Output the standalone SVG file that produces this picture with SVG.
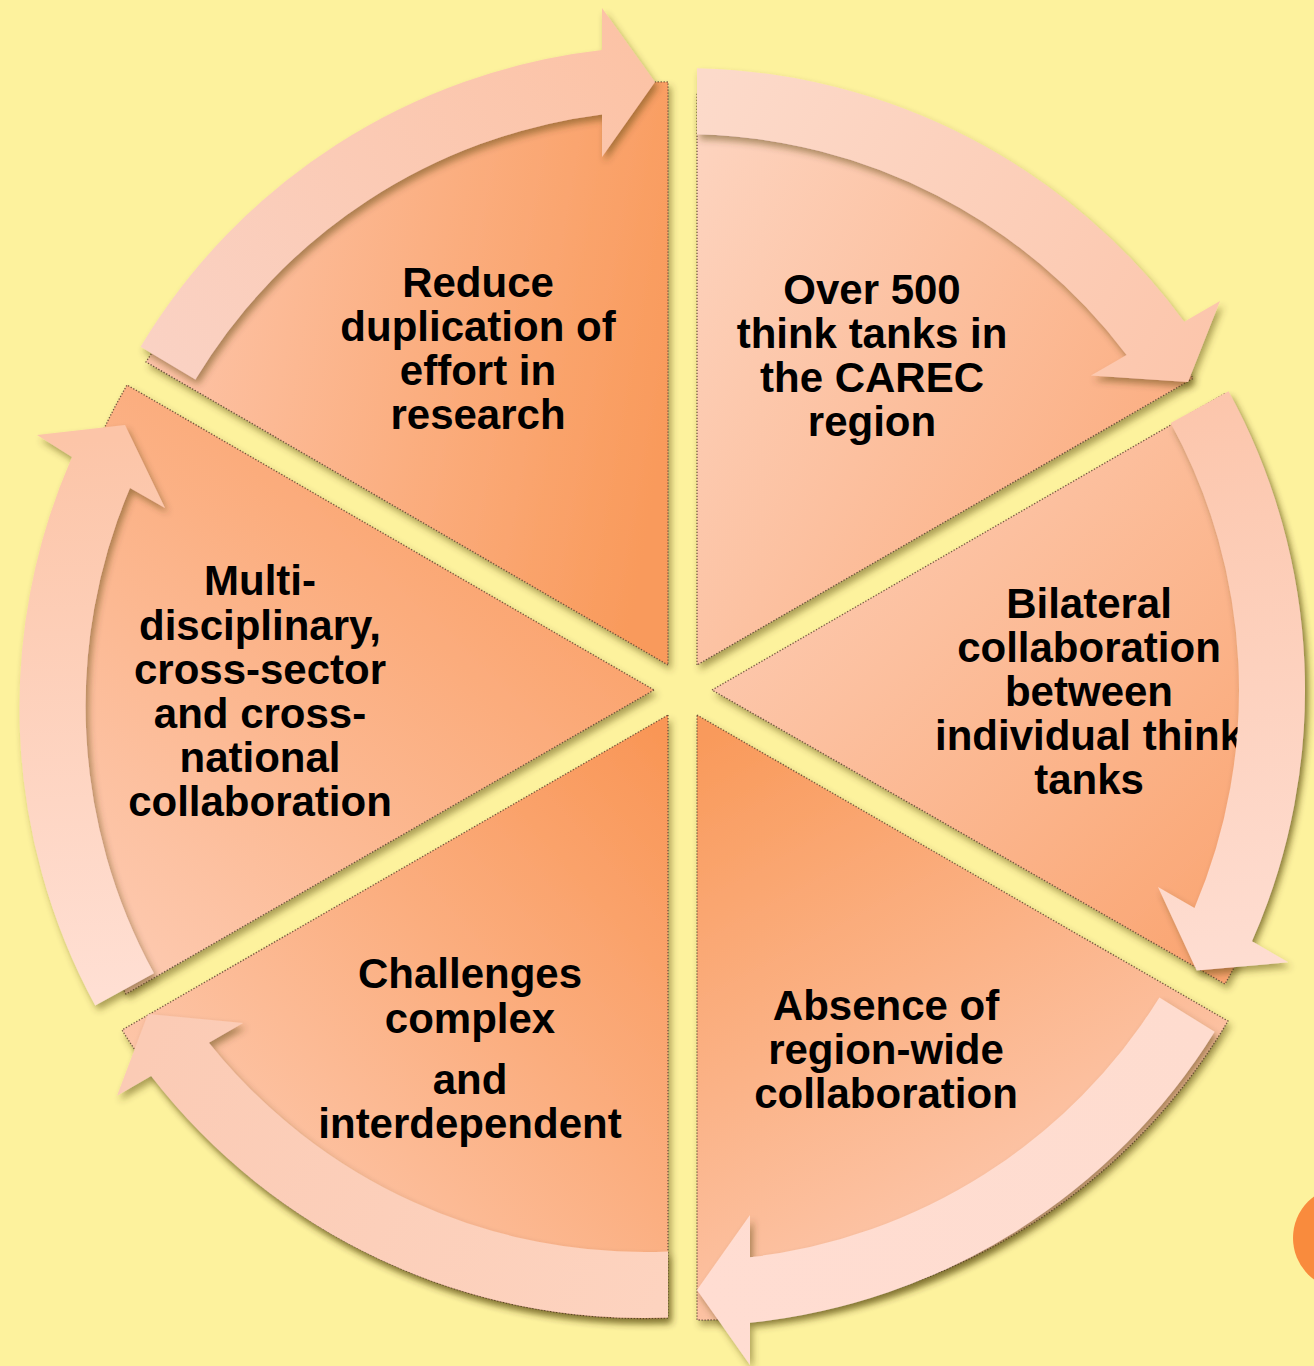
<svg xmlns="http://www.w3.org/2000/svg" width="1314" height="1366" viewBox="0 0 1314 1366">
<defs>
<filter id="sh" x="-10%" y="-10%" width="120%" height="120%">
<feDropShadow dx="3" dy="5" stdDeviation="3.5" flood-color="#4a3a10" flood-opacity="0.45"/>
</filter>
<linearGradient id="g1" gradientUnits="userSpaceOnUse" x1="668" y1="420" x2="150" y2="330"><stop offset="0" stop-color="#F99A5B"/><stop offset="1" stop-color="#FDC4A8"/></linearGradient>
<linearGradient id="g2" gradientUnits="userSpaceOnUse" x1="700" y1="150" x2="1200" y2="420"><stop offset="0" stop-color="#FDD3BE"/><stop offset="1" stop-color="#FBAD80"/></linearGradient>
<linearGradient id="g3" gradientUnits="userSpaceOnUse" x1="740" y1="500" x2="1220" y2="980"><stop offset="0" stop-color="#FDCDB5"/><stop offset="1" stop-color="#FAA470"/></linearGradient>
<linearGradient id="g4" gradientUnits="userSpaceOnUse" x1="700" y1="740" x2="1000" y2="1300"><stop offset="0" stop-color="#F99A5B"/><stop offset="1" stop-color="#FDCBB3"/></linearGradient>
<linearGradient id="g5" gradientUnits="userSpaceOnUse" x1="668" y1="740" x2="200" y2="1150"><stop offset="0" stop-color="#F99656"/><stop offset="1" stop-color="#FDC6A9"/></linearGradient>
<linearGradient id="g6" gradientUnits="userSpaceOnUse" x1="600" y1="480" x2="150" y2="960"><stop offset="0" stop-color="#FA9D62"/><stop offset="1" stop-color="#FDC8AD"/></linearGradient>
<linearGradient id="a1" gradientUnits="userSpaceOnUse" x1="140" y1="360" x2="650" y2="80"><stop offset="0" stop-color="#FAD2C4"/><stop offset="1" stop-color="#FCC3A6"/></linearGradient>
<linearGradient id="a2" gradientUnits="userSpaceOnUse" x1="700" y1="100" x2="1200" y2="360"><stop offset="0" stop-color="#FCDACA"/><stop offset="1" stop-color="#FCC6AC"/></linearGradient>
<linearGradient id="a3" gradientUnits="userSpaceOnUse" x1="1200" y1="400" x2="1250" y2="960"><stop offset="0" stop-color="#FCC6AC"/><stop offset="1" stop-color="#FEDDD1"/></linearGradient>
<linearGradient id="a4" gradientUnits="userSpaceOnUse" x1="1190" y1="1010" x2="700" y2="1300"><stop offset="0" stop-color="#FEDCCF"/><stop offset="1" stop-color="#FFDDD2"/></linearGradient>
<linearGradient id="a5" gradientUnits="userSpaceOnUse" x1="668" y1="1290" x2="150" y2="1040"><stop offset="0" stop-color="#FDD3BF"/><stop offset="1" stop-color="#FBCBB5"/></linearGradient>
<linearGradient id="a6" gradientUnits="userSpaceOnUse" x1="120" y1="990" x2="100" y2="440"><stop offset="0" stop-color="#FFDFD3"/><stop offset="1" stop-color="#FCC5A8"/></linearGradient>
</defs>
<style>
.seg{stroke:#5b4030;stroke-width:1.3;stroke-dasharray:1.3 1.7;stroke-opacity:0.85;filter:url(#sh)}
.arr{stroke:none;filter:url(#sh)}
.lbl{font-family:"Liberation Sans",Arial,sans-serif;font-weight:bold;font-size:42px;fill:#000;text-anchor:middle}
</style>
<rect x="0" y="0" width="1314" height="1366" fill="#FDF29D"/>
<circle cx="1344.5" cy="1238" r="51.5" fill="#F98B3D"/>
<g id="node1">
<path class="seg" fill="url(#g1)" d="M668,665 L146,362 A605,605 0 0,1 668,82 Z"/>
<text class="lbl" x="478" y="297">Reduce</text>
<text class="lbl" x="478" y="341">duplication of</text>
<text class="lbl" x="478" y="385">effort in</text>
<text class="lbl" x="478" y="429">research</text>
</g>
<g id="node2">
<path class="seg" fill="url(#g2)" d="M697,665 L697,92 A573,573 0 0,1 1193,378.5 Z"/>
<text class="lbl" x="872" y="304">Over 500</text>
<text class="lbl" x="872" y="348">think tanks in</text>
<text class="lbl" x="872" y="392">the CAREC</text>
<text class="lbl" x="872" y="436">region</text>
</g>
<g id="node3">
<path class="seg" fill="url(#g3)" d="M712,690 L1226,393 A598,598 0 0,1 1225,984 Z"/>
<text class="lbl" x="1089" y="618">Bilateral</text>
<text class="lbl" x="1089" y="662">collaboration</text>
<text class="lbl" x="1089" y="706">between</text>
<text class="lbl" x="1089" y="750">individual think</text>
<text class="lbl" x="1089" y="794">tanks</text>
</g>
<g id="node4">
<path class="seg" fill="url(#g4)" d="M697,715 L1228,1021 A610,610 0 0,1 697,1320 Z"/>
<text class="lbl" x="886" y="1020">Absence of</text>
<text class="lbl" x="886" y="1064">region-wide</text>
<text class="lbl" x="886" y="1108">collaboration</text>
</g>
<g id="node5">
<path class="seg" fill="url(#g5)" d="M668,715 L668,1318 A615,615 0 0,1 122,1030 Z"/>
<text class="lbl" x="470" y="988">Challenges</text>
<text class="lbl" x="470" y="1033">complex</text>
<text class="lbl" x="470" y="1094">and</text>
<text class="lbl" x="470" y="1138">interdependent</text>
</g>
<g id="node6">
<path class="seg" fill="url(#g6)" d="M654,690 L126,994 A610,610 0 0,1 127,385 Z"/>
<text class="lbl" x="260" y="595">Multi-</text>
<text class="lbl" x="260" y="640">disciplinary,</text>
<text class="lbl" x="260" y="684">cross-sector</text>
<text class="lbl" x="260" y="728">and cross-</text>
<text class="lbl" x="260" y="772">national</text>
<text class="lbl" x="260" y="816">collaboration</text>
</g>
<g id="connectors">
<path class="arr" fill="url(#a1)" d="M140.6,346.7 A620,620 0 0,1 602,50 L602,8 L655,82 L602,157 L602,114.4 A556,556 0 0,0 195.4,379.6 Z"/>
<path class="arr" fill="url(#a2)" d="M697,68.2 A622,622 0 0,1 1184.2,321.7 L1220,301 L1188,382 L1091,375.6 L1126.6,354.9 A556,556 0 0,0 697,134.2 Z"/>
<path class="arr" fill="url(#a3)" d="M1228.6,391.3 A622,622 0 0,1 1252,941.3 L1288.3,962.3 L1196.7,970.5 L1158,887 L1194.5,908 A556,556 0 0,0 1170.7,423 Z"/>
<path class="arr" fill="url(#a4)" d="M1214.6,1031.8 A622,622 0 0,1 750,1322.7 L750,1365 L697,1290 L750,1215 L750,1257.3 A557,557 0 0,0 1159.4,997.5 Z"/>
<path class="arr" fill="url(#a5)" d="M668,1317.5 A623,623 0 0,1 151.1,1076 L117,1095.8 L148,1014 L243,1023 L208.9,1042.7 A557,557 0 0,0 668,1251.5 Z"/>
<path class="arr" fill="url(#a6)" d="M95.2,1005.6 A624,624 0 0,1 72,457 L37,435 L125,425 L165,508 L130,488 A557,557 0 0,0 153.9,973.3 Z"/>
</g>
</svg>
